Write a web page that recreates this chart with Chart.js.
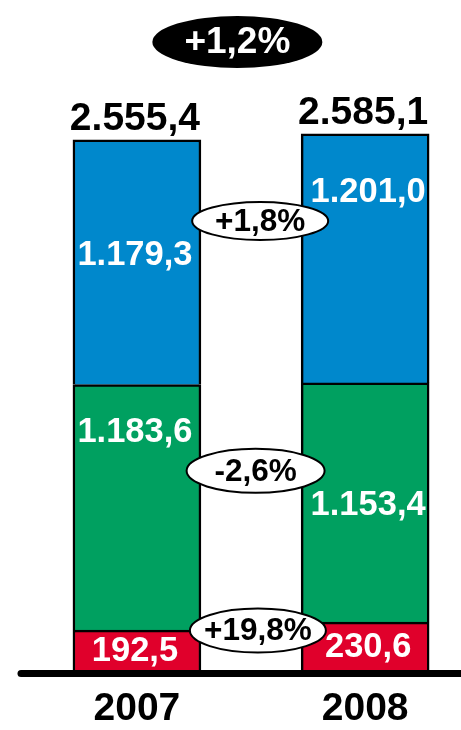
<!DOCTYPE html>
<html lang="pt">
<head>
<meta charset="utf-8">
<title>2007 x 2008</title>
<script src="https://cdn.jsdelivr.net/npm/chart.js@4.4.1/dist/chart.umd.min.js"></script>
<style>
  html, body { margin: 0; padding: 0; background: #fff; }
  canvas { display: block; }
</style>
</head>
<body>
<canvas id="grafico" width="461" height="730"></canvas>
<script>
// Dados
const anos = ['2007', '2008'];
const valoresVermelho = [192.5, 230.6];
const valoresVerde = [1183.6, 1153.4];
const valoresAzul = [1179.3, 1201.0];
const totais = [2555.4, 2585.1];
const variacaoTotal = '+1,2%';
const variacoes = ['+19,8%', '-2,6%', '+1,8%']; // vermelho, verde, azul

const fonte = '"Liberation Sans", Arial, sans-serif';

// Formata no padrão brasileiro: 1.179,3
function formatar(v) {
  const [inteiro, dec] = v.toFixed(1).split('.');
  return inteiro.replace(/\B(?=(\d{3})+(?!\d))/g, '.') + ',' + dec;
}

// posição do rótulo dentro do segmento (0 = topo, 1 = base), por série e ano
const posRotulo = [
  [0.5, 0.5],   // vermelho
  [0.19, 0.51], // verde
  [0.47, 0.23], // azul
];
const deslocX = [-2, 3];

// elipses de variação: posição em unidades dos eixos
const posVariacao = [
  { x: 0.53, y: 190, rx: 68, ry: 22 },
  { x: 0.52, y: 960, rx: 69, ry: 22 },
  { x: 0.54, y: 2165, rx: 68, ry: 19 },
];

function serie(valores) {
  return valores.map((v, i) => ({ x: i, y: v }));
}

const rotulosPlugin = {
  id: 'rotulos',
  afterDatasetsDraw(chart) {
    const ctx = chart.ctx;
    const { x: eixoX, y: eixoY } = chart.scales;
    ctx.save();

    // linha de base
    ctx.strokeStyle = '#000';
    ctx.lineWidth = 7;
    ctx.lineCap = 'round';
    ctx.beginPath();
    ctx.moveTo(21, chart.chartArea.bottom + 3.5);
    ctx.lineTo(chart.width + 10, chart.chartArea.bottom + 3.5);
    ctx.stroke();

    // valores dentro das barras
    ctx.textAlign = 'center';
    ctx.textBaseline = 'middle';
    ctx.fillStyle = '#fff';
    ctx.font = 'bold 34.5px ' + fonte;
    chart.data.datasets.forEach((ds, i) => {
      chart.getDatasetMeta(i).data.forEach((el, j) => {
        const y = el.y + (el.base - el.y) * posRotulo[i][j];
        ctx.fillText(formatar(ds.data[j].y), el.x + deslocX[j], y + 1);
      });
    });

    // totais
    const topo = chart.getDatasetMeta(chart.data.datasets.length - 1).data;
    ctx.fillStyle = '#000';
    ctx.textBaseline = 'alphabetic';
    ctx.font = 'bold 39px ' + fonte;
    topo.forEach((el, j) => {
      ctx.fillText(formatar(totais[j]), el.x - 2, el.y - 10);
    });

    // elipses de variação
    ctx.textBaseline = 'middle';
    ctx.font = 'bold 31.5px ' + fonte;
    variacoes.forEach((txt, i) => {
      const p = posVariacao[i];
      const cx = eixoX.getPixelForValue(p.x);
      const cy = eixoY.getPixelForValue(p.y);
      ctx.beginPath();
      ctx.ellipse(cx, cy, p.rx, p.ry, 0, 0, Math.PI * 2);
      ctx.fillStyle = '#fff';
      ctx.fill();
      ctx.lineWidth = 2;
      ctx.strokeStyle = '#000';
      ctx.stroke();
      ctx.fillStyle = '#000';
      ctx.fillText(txt, cx, cy + 1);
    });

    // variação total
    const cx = eixoX.getPixelForValue(0.44);
    const cy = 42;
    ctx.beginPath();
    ctx.ellipse(cx, cy, 85, 26, 0, 0, Math.PI * 2);
    ctx.fillStyle = '#000';
    ctx.fill();
    ctx.fillStyle = '#fff';
    ctx.font = 'bold 37px ' + fonte;
    ctx.fillText(variacaoTotal, cx, cy + 1);

    ctx.restore();
  },
};

new Chart(document.getElementById('grafico'), {
  type: 'bar',
  data: {
    datasets: [
      { data: serie(valoresVermelho), backgroundColor: '#e0002b' },
      { data: serie(valoresVerde), backgroundColor: '#00a060' },
      { data: serie(valoresAzul), backgroundColor: '#0088cc' },
    ],
  },
  options: {
    responsive: false,
    animation: false,
    layout: { padding: 0 },
    datasets: {
      bar: {
        barThickness: 128,
        borderColor: '#000',
        borderWidth: 2.5,
      },
    },
    plugins: {
      legend: { display: false },
      tooltip: { enabled: false },
    },
    scales: {
      x: {
        type: 'linear',
        stacked: true,
        offset: false,
        min: -0.6,
        max: 1.42,
        afterBuildTicks: (eixo) => {
          eixo.ticks = anos.map((_, i) => ({ value: i }));
        },
        afterFit: (eixo) => {
          eixo.height = 60;
        },
        ticks: {
          callback: (v) => anos[v],
          color: '#000',
          font: { family: fonte, size: 39, weight: 'bold', lineHeight: 1.1 },
          padding: 18,
          autoSkip: false,
          maxRotation: 0,
        },
        grid: { display: false, drawTicks: false },
        border: { display: false },
      },
      y: {
        stacked: true,
        display: false,
        min: 0,
        max: 3230,
      },
    },
  },
  plugins: [rotulosPlugin],
});
</script>
</body>
</html>
